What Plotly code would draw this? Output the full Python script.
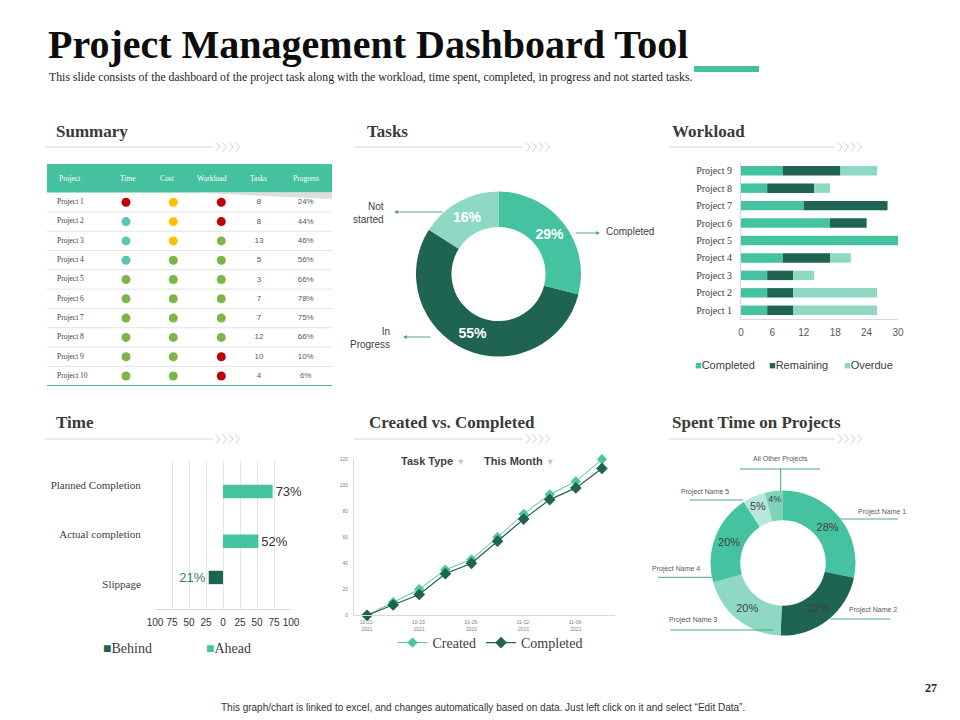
import plotly.graph_objects as go

W, H = 960, 720
def px(x): return x / W
def py(y): return 1 - y / H

# ---------------- data ----------------
projects = [f"Project {i}" for i in range(1, 11)]
time_status = ["red", "teal", "teal", "teal", "green", "green", "green", "green", "green", "green"]
cost_status = ["amber", "amber", "amber", "green", "green", "green", "green", "green", "green", "green"]
workload_status = ["red", "red", "green", "green", "green", "green", "green", "green", "red", "red"]
task_counts = [8, 8, 13, 5, 3, 7, 7, 12, 10, 4]
progress_pct = [24, 44, 46, 56, 66, 78, 75, 66, 10, 6]
table_headers = ["Project", "Time", "Cost", "Workload", "Tasks", "Progress"]

task_states = ["Completed", "In Progress", "Not started"]
task_share = [29, 55, 16]

wl_projects = [f"Project {i}" for i in range(1, 10)]
wl_series = ["Completed", "Remaining", "Overdue"]
wl_completed = [5, 5, 5, 8, 30, 17, 12, 5, 8]
wl_remaining = [5, 5, 5, 9, 0, 7, 16, 9, 11]
wl_overdue = [16, 16, 4, 4, 0, 0, 0, 3, 7]

time_cats = ["Planned Completion", "Actual completion", "Slippage"]
time_series = ["Behind", "Ahead"]
time_ahead = [73, 52, 0]
time_behind = [0, 0, -21]
time_ticks = [-100, -75, -50, -25, 0, 25, 50, 75, 100]

date_labels = ["10-21-2021", "10-23-2021", "10-25-2021", "11-02-2021", "11-06-2021"]
created = [0, 10, 20, 35, 43, 60, 78, 93, 103, 120]
completed = [0, 8, 16, 32, 40, 57, 74, 89, 98, 113]

spent_names = ["Project Name 1", "Project Name 2", "Project Name 3",
               "Project Name 4", "Project Name 5", "All Other Projects"]
spent_share = [28, 22, 20, 20, 5, 4]

# ---------------- style ----------------
C_MID = "#45c3a0"
C_DARK = "#1f6453"
C_LIGHT = "#8fd9c4"
C_PALE = "#b6e7d8"
C_OTHER = "#7dd3b9"
STATUS_COLORS = {"red": "#c00000", "amber": "#ffc000", "teal": "#5cc6b2", "green": "#7ab648"}
SERIF = "Liberation Serif"
SANS = "Liberation Sans"
TXT = "#404040"

fig = go.Figure()
annotations = []
shapes = []

def ann(x, y, text, xanchor="center", yanchor="middle", **kw):
    d = dict(xref="paper", yref="paper", x=px(x), y=py(y), text=text, showarrow=False,
             xanchor=xanchor, yanchor=yanchor)
    d.update(kw)
    annotations.append(d)

# ---------------- Summary table ----------------
ROW0, ROWH = 202.3, 19.3
row_y = [ROW0 + ROWH * i for i in range(len(projects))]
col_x = {"Project": 57, "Time": 126, "Cost": 173.3, "Workload": 221.3, "Tasks": 259, "Progress": 305.7}
head_x = {"Project": 57, "Time": 128, "Cost": 167, "Workload": 211.7, "Tasks": 258.7, "Progress": 305.7}

shapes.append(dict(type="rect", xref="x", yref="y", x0=47, x1=332, y0=164, y1=192.5,
                   fillcolor="#45c1a0", line=dict(width=0), layer="below"))
shapes.append(dict(type="path", xref="x", yref="y", path="M 192,192.5 L 332,192.5 L 332,199 Z",
                   fillcolor="#dedede", line=dict(width=0), layer="below"))
for i in range(len(projects) - 1):
    yy = row_y[i] + ROWH / 2
    shapes.append(dict(type="line", xref="x", yref="y", x0=47, x1=332, y0=yy, y1=yy,
                       line=dict(color="#e3e3e3", width=1), layer="below"))
yb = row_y[-1] + ROWH / 2
shapes.append(dict(type="line", xref="x", yref="y", x0=47, x1=332, y0=yb, y1=yb,
                   line=dict(color="#4bb3a3", width=1.5)))

for h in table_headers:
    annotations.append(dict(xref="x", yref="y", x=head_x[h], y=178.3, text=h, showarrow=False,
                            xanchor="left" if h == "Project" else "center", yanchor="middle",
                            font=dict(family=SERIF, size=7.5, color="white")))

for key, status in (("Time", time_status), ("Cost", cost_status), ("Workload", workload_status)):
    fig.add_trace(go.Scatter(x=[col_x[key]] * len(status), y=row_y, mode="markers",
                             marker=dict(size=9, color=[STATUS_COLORS[s] for s in status]),
                             xaxis="x", yaxis="y", showlegend=False, hoverinfo="skip"))
fig.add_trace(go.Scatter(x=[col_x["Project"]] * len(projects), y=row_y, mode="text", text=projects,
                         textposition="middle right", textfont=dict(family=SERIF, size=7.5, color=TXT),
                         xaxis="x", yaxis="y", showlegend=False, hoverinfo="skip"))
fig.add_trace(go.Scatter(x=[col_x["Tasks"]] * len(task_counts), y=row_y, mode="text",
                         text=[str(v) for v in task_counts], textposition="middle center",
                         textfont=dict(family=SANS, size=8, color="#595959"),
                         xaxis="x", yaxis="y", showlegend=False, hoverinfo="skip"))
fig.add_trace(go.Scatter(x=[col_x["Progress"]] * len(progress_pct), y=row_y, mode="text",
                         text=[f"{v}%" for v in progress_pct], textposition="middle center",
                         textfont=dict(family=SANS, size=8, color="#595959"),
                         xaxis="x", yaxis="y", showlegend=False, hoverinfo="skip"))

# ---------------- Tasks donut ----------------
fig.add_trace(go.Pie(labels=task_states, values=task_share, hole=0.57, sort=False,
                     direction="clockwise", rotation=0,
                     marker=dict(colors=[C_MID, C_DARK, C_LIGHT], line=dict(width=0)),
                     texttemplate="%{value}%", textposition="inside", insidetextorientation="horizontal",
                     textfont=dict(family=SANS, size=14, color="white", weight="bold"),
                     domain=dict(x=[px(416), px(581)], y=[py(357), py(191)]),
                     showlegend=False, hoverinfo="label+value"))
ARROW = "#5aa392"
for head, tail in (((600, 233), (574, 233)), ((394, 212), (444, 212)), ((403, 337), (432, 337))):
    annotations.append(dict(xref="paper", yref="paper",
                            x=px(head[0]), y=py(head[1]), ax=tail[0] - head[0], ay=tail[1] - head[1],
                            text="", showarrow=True, arrowhead=2, arrowsize=0.8, arrowwidth=1,
                            arrowcolor=ARROW))
ann(604, 232, task_states[0], xanchor="left", font=dict(family=SANS, size=10, color=TXT))
ann(386, 213, task_states[2].replace(" ", "<br>"), xanchor="right", align="right",
    font=dict(family=SANS, size=10, color=TXT))
ann(392, 338, task_states[1].replace(" ", "<br>"), xanchor="right", align="right",
    font=dict(family=SANS, size=10, color=TXT))

# ---------------- Workload stacked bars ----------------
base_rem = wl_completed
base_ovd = [c + r for c, r in zip(wl_completed, wl_remaining)]
for name, vals, base, col in ((wl_series[0], wl_completed, None, C_MID),
                              (wl_series[1], wl_remaining, base_rem, C_DARK),
                              (wl_series[2], wl_overdue, base_ovd, C_LIGHT)):
    fig.add_trace(go.Bar(y=wl_projects, x=vals, base=base, orientation="h", name=name,
                         marker=dict(color=col, line=dict(width=0)), width=0.54,
                         xaxis="x2", yaxis="y2", showlegend=False))
for name, col, xl in zip(wl_series, (C_MID, C_DARK, C_LIGHT), (693, 767, 842)):
    ann(xl, 365, f"<span style='color:{col}'>■</span>{name}", xanchor="left",
        font=dict(family=SANS, size=11, color=TXT))

# ---------------- Time diverging bars ----------------
fig.add_trace(go.Bar(y=time_cats, x=time_behind, orientation="h", name=time_series[0],
                     marker=dict(color=C_DARK, line=dict(width=0)), width=0.27, offset=-0.27,
                     text=[f"{abs(v)}%" if v else "" for v in time_behind], textposition="outside",
                     textfont=dict(family=SANS, size=13, color="#2e7d6a"), cliponaxis=False,
                     constraintext="none", xaxis="x3", yaxis="y3", showlegend=False))
fig.add_trace(go.Bar(y=time_cats, x=time_ahead, orientation="h", name=time_series[1],
                     marker=dict(color=C_MID, line=dict(width=0)), width=0.27, offset=0,
                     text=[f"{v}%" if v else "" for v in time_ahead], textposition="outside",
                     textfont=dict(family=SANS, size=13, color="#333333"), cliponaxis=False,
                     constraintext="none", xaxis="x3", yaxis="y3", showlegend=False))
for name, col, xl in zip(time_series, (C_DARK, C_MID), (101, 204)):
    ann(xl, 648, f"<span style='color:{col}'>■</span>{name}", xanchor="left",
        font=dict(family=SERIF, size=14, color=TXT))

# ---------------- Created vs Completed ----------------
idx = list(range(len(created)))
fig.add_trace(go.Scatter(x=idx, y=created, mode="lines+markers", name="Created",
                         line=dict(color="#4cc4a0", width=1),
                         marker=dict(symbol="diamond", size=8, color="#4cc4a0"),
                         xaxis="x4", yaxis="y4", cliponaxis=False))
fig.add_trace(go.Scatter(x=idx, y=completed, mode="lines+markers", name="Completed",
                         line=dict(color=C_DARK, width=1.2),
                         marker=dict(symbol="diamond", size=9, color=C_DARK),
                         xaxis="x4", yaxis="y4", cliponaxis=False))
for t, xl in (("Task Type", 399), ("This Month", 482)):
    ann(xl, 461, f"<b>{t}</b> <span style='color:#c8c8c8;font-size:9px'>▼</span>", xanchor="left",
        font=dict(family=SANS, size=11, color=TXT))

# ---------------- Spent time donut ----------------
fig.add_trace(go.Pie(labels=spent_names, values=spent_share, hole=0.59, sort=False,
                     direction="clockwise", rotation=0,
                     marker=dict(colors=[C_MID, C_DARK, C_LIGHT, C_MID, C_PALE, C_OTHER], line=dict(width=0)),
                     texttemplate="%{value}%", textposition="inside", insidetextorientation="horizontal",
                     textfont=dict(family=SANS, size=11, color=TXT),
                     domain=dict(x=[px(710.5), px(855.5)], y=[py(635.5), py(490.5)]),
                     showlegend=False, hoverinfo="label+value"))
LEAD = "#4ea593"
spent_label_pos = [(882, 512.3), (873, 610), (693, 620), (675.7, 569.3), (705, 491.7), (780, 459.3)]
spent_lines = [((840, 519), (898, 519)), ((830, 619), (890, 619)), ((670, 630), (773, 630)),
               ((658, 577.3), (712, 577.3)), ((690, 500), (743, 500)), ((740, 469), (820, 469))]
for name, (lx, ly), (p0, p1) in zip(spent_names, spent_label_pos, spent_lines):
    ann(lx, ly, name, font=dict(family=SANS, size=7, color="#595959"))
    shapes.append(dict(type="line", xref="paper", yref="paper", x0=px(p0[0]), x1=px(p1[0]),
                       y0=py(p0[1]), y1=py(p1[1]), line=dict(color=LEAD, width=1)))
shapes.append(dict(type="line", xref="paper", yref="paper", x0=px(780.7), x1=px(780.7),
                   y0=py(469), y1=py(491), line=dict(color=LEAD, width=1)))

# ---------------- headers / decorations ----------------
ann(46, 44, "<b>Project Management Dashboard Tool</b>", xanchor="left",
    font=dict(family=SERIF, size=40, color="#0d0d0d"))
shapes.append(dict(type="rect", xref="paper", yref="paper", x0=px(694), x1=px(759), y0=py(72), y1=py(66),
                   fillcolor="#45c1a0", line=dict(width=0)))
ann(47, 77, "This slide consists of the dashboard of the project task along with the workload, "
            "time spent, completed, in progress and not started tasks.", xanchor="left",
    font=dict(family=SERIF, size=11.8, color="#262626"))

sections = [("Summary", 54, 131, 45, 213, 147), ("Tasks", 365, 131, 354, 523, 147),
            ("Workload", 670, 131, 669, 835, 147), ("Time", 54, 422, 45, 213, 439),
            ("Created vs. Completed", 367, 422, 354, 523, 439),
            ("Spent Time on Projects", 670, 422, 669, 835, 439)]
for title, tx, ty, l0, l1, ly in sections:
    ann(tx, ty, f"<b>{title}</b>", xanchor="left", font=dict(family=SERIF, size=17, color="#3a3a3a"))
    shapes.append(dict(type="line", xref="paper", yref="paper", x0=px(l0), x1=px(l1),
                       y0=py(ly), y1=py(ly), line=dict(color="#d6d6d6", width=1)))
    for k in range(4):
        cx = l1 + 3 + 6.5 * k
        shapes.append(dict(type="path", xref="paper", yref="paper",
                           path=f"M {px(cx)},{py(ly - 4.5)} L {px(cx + 4)},{py(ly)} L {px(cx)},{py(ly + 4.5)}",
                           line=dict(color="#cfcfcf", width=1)))

ann(483, 707, "This graph/chart is linked to excel, and changes automatically based on data. "
              "Just left click on it and select “Edit Data”.",
    font=dict(family=SANS, size=10, color="#333333"))
ann(931, 688, "<b>27</b>", font=dict(family=SERIF, size=12, color="#262626"))

# ---------------- layout ----------------
hidden = dict(ticks="outside", tickcolor="rgba(0,0,0,0)")
fig.update_layout(
    width=W, height=H, margin=dict(l=0, r=0, t=0, b=0, autoexpand=False),
    paper_bgcolor="white", plot_bgcolor="rgba(0,0,0,0)",
    barmode="overlay",
    xaxis=dict(domain=[px(47), px(332)], range=[47, 332], visible=False, fixedrange=True),
    yaxis=dict(domain=[py(386), py(164)], range=[386, 164], visible=False, fixedrange=True),
    xaxis2=dict(domain=[px(741), px(898)], range=[0, 30], tickvals=list(range(0, 31, 6)),
                showgrid=False, zeroline=False, showline=True, linecolor="#d9d9d9", ticklen=4,
                tickfont=dict(family=SANS, size=10, color="#595959"), anchor="y2", **hidden),
    yaxis2=dict(domain=[py(319), py(162)], showgrid=False, showline=True, linecolor="#d9d9d9", ticklen=6,
                tickfont=dict(family=SERIF, size=10, color=TXT), anchor="x2", **hidden),
    xaxis3=dict(domain=[px(155), px(291)], range=[-100, 100], tickvals=time_ticks,
                ticktext=[str(abs(v)) for v in time_ticks], showgrid=True, gridcolor="#e6e6e6",
                zeroline=False, showline=True, linecolor="#d9d9d9", ticklen=4,
                tickfont=dict(family=SANS, size=10, color="#333333"), anchor="y3", **hidden),
    yaxis3=dict(domain=[py(609), py(460)], type="category", categoryorder="array", categoryarray=time_cats,
                range=[len(time_cats) - 0.5, -0.5], showgrid=False, showline=False, ticklen=11,
                tickfont=dict(family=SERIF, size=11, color=TXT), anchor="x3", **hidden),
    xaxis4=dict(domain=[px(354), px(615)], range=[-0.5, len(created) - 0.5],
                tickvals=list(range(0, len(created), 2)),
                ticktext=[d[:6] + "<br>" + d[6:] for d in date_labels],
                showgrid=False, zeroline=False, showline=True, linecolor="#d9d9d9", ticklen=2,
                tickfont=dict(family=SANS, size=5, color="#7f7f7f"), anchor="y4", **hidden),
    yaxis4=dict(domain=[py(615.3), py(459.3)], range=[0, 120], dtick=20, showgrid=False, zeroline=False,
                showline=True, linecolor="#d9d9d9", ticklen=4,
                tickfont=dict(family=SANS, size=5, color="#7f7f7f"), anchor="x4", **hidden),
    legend=dict(orientation="h", x=px(490), xanchor="center", y=py(643), yanchor="middle",
                font=dict(family=SERIF, size=14, color=TXT), bgcolor="rgba(0,0,0,0)",
                itemwidth=30, tracegroupgap=0),
    annotations=annotations, shapes=shapes,
)

fig.write_html("out.html")
